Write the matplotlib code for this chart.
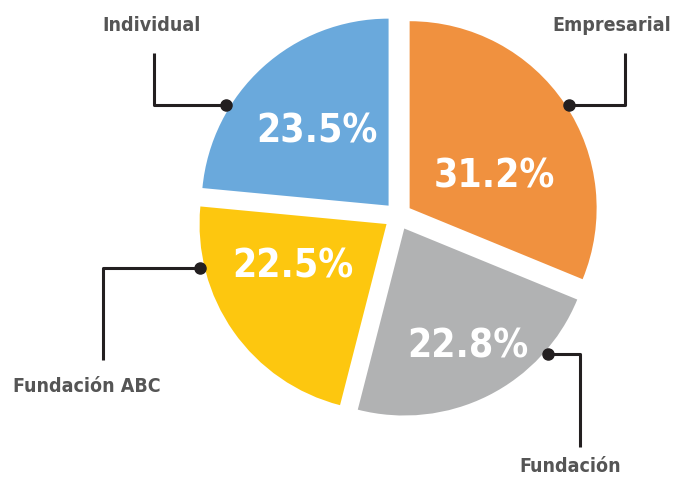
import matplotlib
matplotlib.use("Agg")
import matplotlib.pyplot as plt

# =========================================================
# Data
# =========================================================
categories = ["Empresarial", "Fundación", "Fundación ABC", "Individual"]
shares = [31.2, 22.8, 22.5, 23.5]
colors = ["#F0913F", "#B1B2B3", "#FDC70F", "#6AA9DC"]

# =========================================================
# Layout (pixel coordinates, y measured from top)
# =========================================================
W, H = 676, 478
CENTER = (398, 216)
RADIUS = 187
EXPLODE = 14

# percentage label centres
pct_pos = [(494, 176), (468, 346), (293, 266), (317, 131)]
# category label centres
name_pos = [(612, 25), (570, 467), (87, 386), (152, 25)]
# leader lines: dot -> elbow -> end
leaders = [
    [(569, 105), (625, 105), (625, 53)],
    [(548, 354), (580, 354), (580, 447)],
    [(200, 268), (103, 268), (103, 360)],
    [(226, 105), (154, 105), (154, 53)],
]

FONT = dict(family="DejaVu Sans", fontstretch="condensed", fontweight="bold")


def fy(y):
    return H - y


fig = plt.figure(figsize=(W / 100, H / 100), dpi=100)
ax = fig.add_axes([0, 0, 1, 1])

ax.pie(shares, colors=colors, startangle=90, counterclock=False,
       radius=RADIUS, center=(CENTER[0], fy(CENTER[1])),
       explode=[EXPLODE] * len(shares),
       wedgeprops=dict(linewidth=0))

for val, (x, y) in zip(shares, pct_pos):
    ax.text(x, fy(y), f"{val}%", ha="center", va="center", color="white",
            fontsize=28, **FONT)

for name, (x, y) in zip(categories, name_pos):
    ax.text(x, fy(y), name, ha="center", va="center", color="#555555",
            fontsize=14, **FONT)

for pts in leaders:
    xs = [p[0] for p in pts]
    ys = [fy(p[1]) for p in pts]
    ax.plot(xs, ys, color="#231F20", linewidth=2.2, solid_capstyle="butt")
    ax.plot(xs[0], ys[0], "o", color="#231F20", markersize=8)

ax.set_xlim(0, W)
ax.set_ylim(0, H)
ax.set_aspect("equal")
ax.axis("off")

fig.savefig("out.png", dpi=100, facecolor="white")
